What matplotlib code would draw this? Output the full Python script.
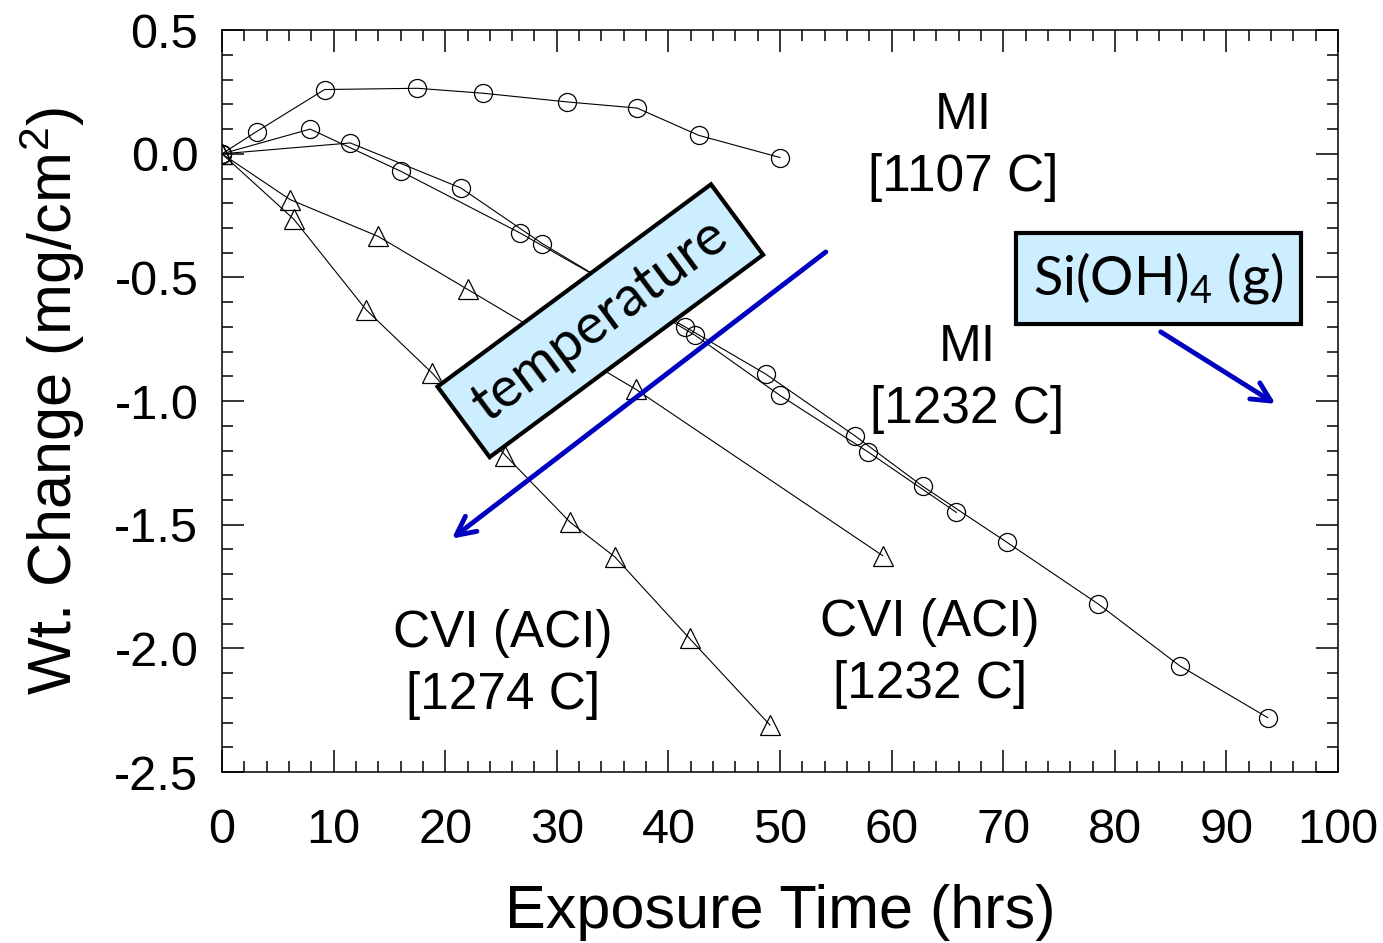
import matplotlib
matplotlib.use('Agg')
import matplotlib.pyplot as plt
from matplotlib.ticker import MultipleLocator

plt.rcParams['font.family'] = ['Liberation Sans', 'DejaVu Sans']
plt.rcParams['mathtext.default'] = 'regular'

# MI [1107 C]
mi1107_t = [0, 3.1, 9.2, 17.5, 23.4, 30.9, 37.2, 42.7, 50.0]
mi1107_w = [0, 0.09, 0.26, 0.265, 0.245, 0.21, 0.185, 0.075, -0.015]

# MI [1232 C], two runs
mi1232a_t = [0, 7.9, 16.0, 26.7, 41.5, 48.7, 56.7, 62.8, 70.3, 78.5, 85.8, 93.7]
mi1232a_w = [0, 0.10, -0.07, -0.32, -0.70, -0.89, -1.14, -1.345, -1.57, -1.82, -2.07, -2.28]
mi1232b_t = [0, 11.5, 21.4, 28.7, 42.4, 50.0, 57.9, 65.8]
mi1232b_w = [0, 0.044, -0.138, -0.363, -0.734, -0.977, -1.206, -1.45]

# CVI (ACI)
cvi1232_t = [0, 6.1, 14.0, 22.0, 37.1, 59.2]
cvi1232_w = [0, -0.185, -0.334, -0.548, -0.953, -1.625]
cvi1274_t = [0, 6.45, 12.9, 18.8, 25.4, 31.2, 35.2, 41.9, 49.1]
cvi1274_w = [0, -0.265, -0.63, -0.885, -1.22, -1.49, -1.63, -1.96, -2.31]

fig = plt.figure(figsize=(13.83, 9.43), dpi=100)
ax = fig.add_axes([0.1605, 0.1813, 0.807, 0.7867])

circ = dict(color='black', lw=0.8, marker='o', ms=13, mfc='none', mec='black', mew=0.9)
tri = dict(color='black', lw=0.8, marker='^', ms=14, mfc='none', mec='black', mew=0.9)

ax.plot(mi1107_t, mi1107_w, **circ)
ax.plot(mi1232a_t, mi1232a_w, **circ)
ax.plot(mi1232b_t, mi1232b_w, **circ)
ax.plot(cvi1232_t, cvi1232_w, **tri)
ax.plot(cvi1274_t, cvi1274_w, **tri)

ax.set_xlim(0, 100)
ax.set_ylim(-2.5, 0.5)
ax.xaxis.set_major_locator(MultipleLocator(10))
ax.xaxis.set_minor_locator(MultipleLocator(2))
ax.yaxis.set_major_locator(MultipleLocator(0.5))
ax.yaxis.set_minor_locator(MultipleLocator(0.1))
ax.yaxis.set_major_formatter(plt.FuncFormatter(lambda v, p: f'{v:.1f}'))
ax.tick_params(which='both', direction='in', top=True, right=True, width=1.1)
ax.tick_params(which='major', length=16, labelsize=35)
ax.tick_params(axis='x', which='major', pad=26)
ax.tick_params(axis='y', which='major', pad=17)
ax.tick_params(which='minor', length=8)
for s in ax.spines.values():
    s.set_linewidth(1.1)

ax.set_xlabel('Exposure Time (hrs)', fontsize=44, labelpad=22)
ax.set_ylabel('Wt. Change (mg/cm$^2$)', fontsize=44, labelpad=20)

lab = dict(fontsize=37, ha='center', va='center', linespacing=1.35)
ax.text(66.4, 0.03, 'MI\n[1107 C]', **lab)
ax.text(66.8, -0.908, 'MI\n[1232 C]', **lab)
ax.text(25.2, -2.065, 'CVI (ACI)\n[1274 C]', **lab)
ax.text(63.4, -2.02, 'CVI (ACI)\n[1232 C]', **lab)

box = dict(boxstyle='square,pad=0.33', fc='#cceeff', ec='black', lw=3)
ax.text(33.9, -0.675, 'temperature', rotation=36.5, rotation_mode='anchor',
        fontsize=40, family=['Lato', 'DejaVu Sans'], ha='center', va='center', bbox=box)
ax.text(83.9, -0.503, 'Si(OH)$_4$ (g)', fontsize=39, family=['Lato', 'DejaVu Sans'],
        ha='center', va='center', bbox=dict(boxstyle='square,pad=0.32', fc='#cceeff', ec='black', lw=3))

arrow = dict(arrowstyle='->', color='#0000c0', lw=3.5, mutation_scale=34)
ax.annotate('', xy=(20.4, -1.563), xytext=(54.3, -0.39), arrowprops=arrow)
ax.annotate('', xy=(94.6, -1.017), xytext=(83.9, -0.714), arrowprops=arrow)

fig.savefig('out.png', dpi=100)
